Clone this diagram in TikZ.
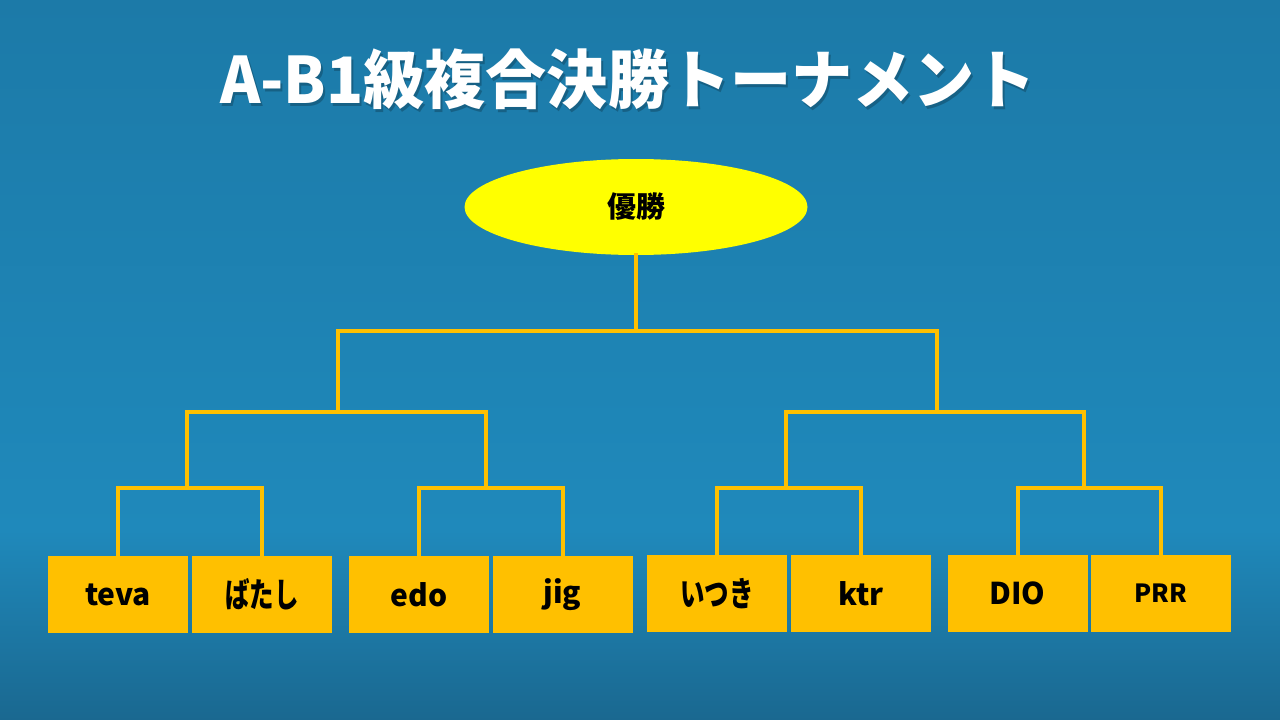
\documentclass[tikz,border=0pt]{standalone}
\usepackage{fontspec}
\newfontfamily\jp{Noto Sans CJK JP}
\usetikzlibrary{shapes.geometric}
\definecolor{bgtop}{RGB}{28,122,168}
\definecolor{bgmid}{RGB}{31,137,187}
\definecolor{bgbot}{RGB}{26,104,144}
\definecolor{gold}{RGB}{255,192,0}
\definecolor{lemon}{RGB}{255,255,0}
\newcommand{\kn}[1]{\scalebox{0.72}[1]{\fontsize{34}{34}\selectfont #1}}
\newcommand{\ttl}{\scalebox{0.955}[1]{A-B1級複合決勝トーナメント}}
\tikzset{
  player/.style={draw=none, fill=gold, minimum width=140pt, minimum height=77pt, inner sep=0pt, font=\jp\bfseries\fontsize{30}{30}\selectfont, text=black},
  wire/.style={draw=gold, line width=4pt, line cap=rect},
  titlefont/.style={font=\jp\bfseries\fontsize{64}{64}\selectfont},
}
\begin{document}
\begin{tikzpicture}[x=1pt,y=-1pt]
\useasboundingbox (0,0) rectangle (1280,720);
\shade[top color=bgtop, bottom color=bgmid] (0,0) rectangle (1280,531);
\shade[top color=bgmid, bottom color=bgbot] (0,530) rectangle (1280,720);
% title
\node (shadow) [text=black, opacity=0.22, titlefont] at (630,82) {\ttl};
\node (title) [text=white, titlefont] at (628,79) {\ttl};
% winner
\node (win) [ellipse, fill=lemon, draw=none, minimum width=343pt, minimum height=96pt, inner sep=0pt, font=\jp\bfseries\fontsize{29}{29}\selectfont] at (636,207) {優勝};
% players
\node (p1) [player] at (118,594.5) {teva};
\node (p2) [player] at (262,594.5) {\kn{ばたし}};
\node (p3) [player] at (419,594.5) {edo};
\node (p4) [player] at (562.5,594.5) {jig};
\node (p5) [player] at (717,593.5) {\kn{いつき}};
\node (p6) [player] at (861,593.5) {ktr};
\node (p7) [player] at (1017.5,593.5) {DIO};
\node (p8) [player, font=\jp\bfseries\fontsize{25}{25}\selectfont] at (1161,593.5) {PRR};
% junctions
\coordinate (q1) at (187,488);
\coordinate (q2) at (486,488);
\coordinate (q3) at (786,488);
\coordinate (q4) at (1084,488);
\coordinate (s1) at (338,412);
\coordinate (s2) at (937,412);
\coordinate (f) at (636,331);
% wires
\draw[wire] (p1.north) |- (q1) -| (p2.north);
\draw[wire] (p3.north) |- (q2) -| (p4.north);
\draw[wire] (p5.north) |- (q3) -| (p6.north);
\draw[wire] (p7.north) |- (q4) -| (p8.north);
\draw[wire] (q1) |- (s1) -| (q2);
\draw[wire] (q3) |- (s2) -| (q4);
\draw[wire] (s1) |- (f) -| (s2);
\draw[wire] (win.south) -- (f);
\end{tikzpicture}
\end{document}
